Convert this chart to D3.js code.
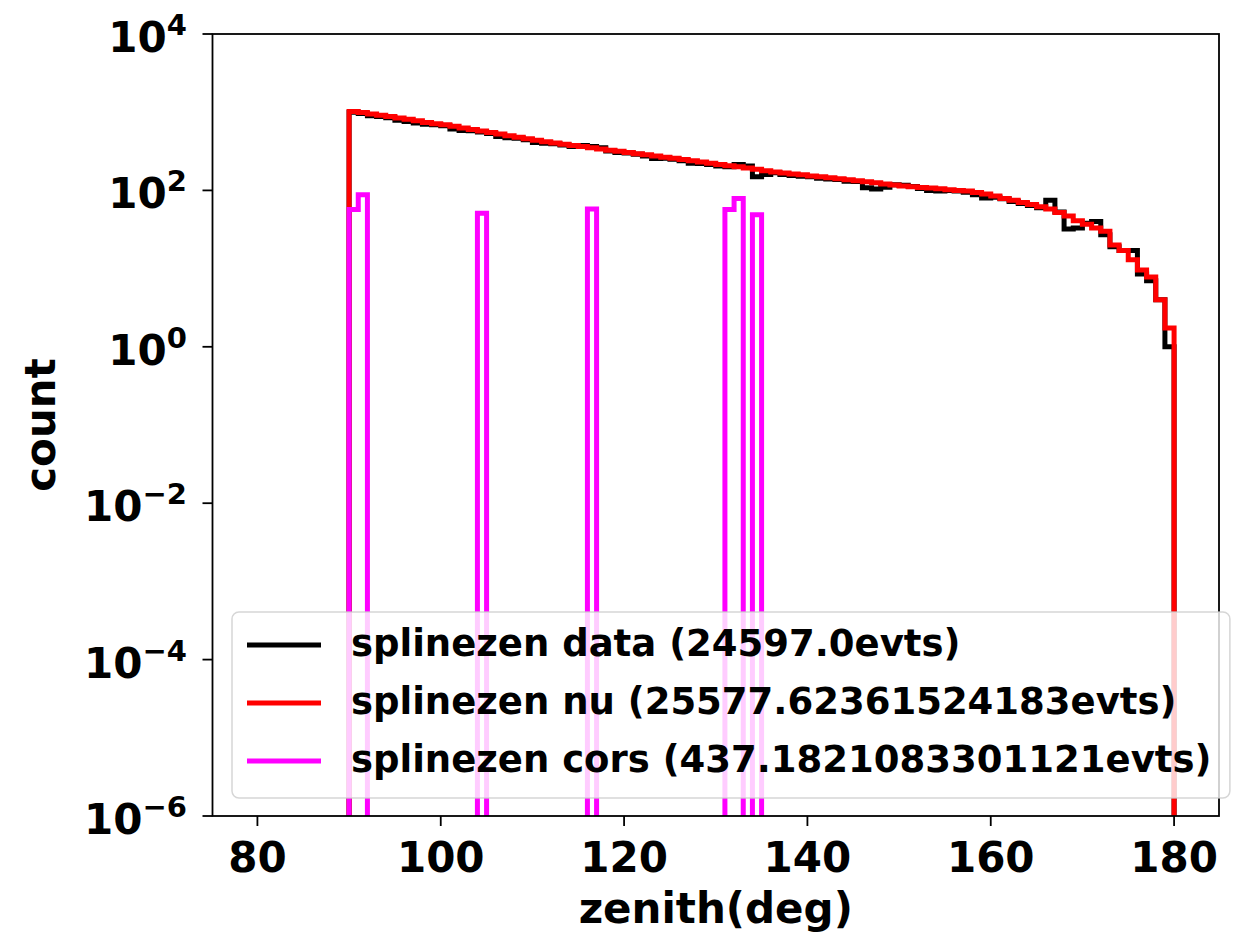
<!DOCTYPE html>
<html>
<head>
<meta charset="utf-8">
<script src="https://cdn.jsdelivr.net/npm/d3@7"></script>
<style>
  body { margin: 0; background: #fff; }
  svg { display: block; }
  text { font-family: "DejaVu Sans", sans-serif; font-weight: bold; fill: #000; }
</style>
</head>
<body>
<svg id="chart" width="1243" height="933"></svg>
<script>
// histogram of zenith angle, 1 deg bins from 80 to 180 (nothing below 90)
const binLo = 80;
const binHi = 180;
const firstFilled = 90;

// counts for bins 90..179
const dataCounts = [
  1000, 960, 900, 880, 850, 790, 760, 730, 700, 690,
  670, 610, 585, 580, 560, 535, 490, 470, 465, 445,
  410, 400, 395, 380, 365, 375, 365, 350, 320, 305,
  300, 290, 275, 255, 258, 250, 240, 222, 220, 215,
  205, 200, 215, 205, 150, 160, 168, 160, 155, 152,
  150, 143, 140, 138, 131, 130, 108, 104, 110, 118,
  116, 112, 106, 100, 98, 100, 98, 95, 88, 80,
  82, 78, 72, 68, 64, 60, 75, 53, 32, 33,
  38, 40, 27, 19, 17, 17, 8.5, 7.0, 4.0, 1.0
];
const nuCounts = [
  1020, 990, 950, 915, 880, 845, 810, 776, 741, 710,
  690, 660, 630, 603, 575, 550, 525, 501, 479, 457,
  437, 420, 403, 389, 376, 363, 351, 339, 327, 316,
  305, 295, 285, 275, 266, 257, 248, 240, 230, 222,
  214, 207, 200, 193, 186, 178, 172, 167, 162, 158,
  153, 149, 145, 141, 137, 133, 129, 125, 121, 117,
  114, 111, 109, 107, 105, 102, 100, 98, 94, 90,
  85, 79, 75, 70, 66, 62, 58, 52, 47, 41,
  37, 33, 30, 20, 17, 13, 9.6, 7.8, 4.0, 1.74
];
// corsika: only a few filled bins
const corsBins = [90, 91, 104, 116, 131, 132, 134];
const corsCounts = [57, 88, 51, 58, 57, 79, 49];

const xTicks = [80, 100, 120, 140, 160, 180];
const yTickExps = [4, 2, 0, -2, -4, -6];

const seriesNames = [
  'splinezen data (24597.0evts)',
  'splinezen nu (25577.62361524183evts)',
  'splinezen cors (437.1821083301121evts)'
];
const seriesColors = ['#000000', '#ff0000', '#ff00ff'];

const W = 1243, H = 933;
const plot = { left: 212.5, right: 1219, top: 34, bottom: 816 };

const svg = d3.select('#chart');

const x = d3.scaleLinear().domain([75.1, 184.9]).range([plot.left, plot.right]);
const y = d3.scaleLog().domain([1e-6, 1e4]).range([plot.bottom, plot.top]);

// spread a series over all bins 80..179
function fullBins(counts) {
  return d3.range(binLo, binHi).map(b => (b < firstFilled ? 0 : counts[b - firstFilled]));
}
const corsFull = d3.range(binLo, binHi).map(b => {
  const i = corsBins.indexOf(b);
  return i < 0 ? 0 : corsCounts[i];
});

function stepPoints(vals) {
  const pts = [[binLo, 0]];
  vals.forEach((v, i) => {
    pts.push([binLo + i, v]);
    pts.push([binLo + i + 1, v]);
  });
  pts.push([binHi, 0]);
  return pts;
}

svg.append('defs').append('clipPath').attr('id', 'clip')
  .append('rect')
  .attr('x', plot.left).attr('y', plot.top)
  .attr('width', plot.right - plot.left).attr('height', plot.bottom - plot.top);

const line = d3.line()
  .x(d => x(d[0]))
  .y(d => (d[1] > 0 ? y(d[1]) : plot.bottom + 60))
  .curve(d3.curveLinear);

const allSeries = [fullBins(dataCounts), fullBins(nuCounts), corsFull];

const g = svg.append('g').attr('clip-path', 'url(#clip)');
allSeries.forEach((vals, i) => {
  g.append('path')
    .attr('d', line(stepPoints(vals)))
    .attr('fill', 'none')
    .attr('stroke', seriesColors[i])
    .attr('stroke-width', 5)
    .attr('stroke-linejoin', 'miter');
});

// frame
svg.append('rect')
  .attr('x', plot.left).attr('y', plot.top)
  .attr('width', plot.right - plot.left).attr('height', plot.bottom - plot.top)
  .attr('fill', 'none').attr('stroke', '#000').attr('stroke-width', 1.8);

// x axis
const xg = svg.append('g');
xTicks.forEach(t => {
  xg.append('line')
    .attr('x1', x(t)).attr('x2', x(t))
    .attr('y1', plot.bottom).attr('y2', plot.bottom + 10)
    .attr('stroke', '#000').attr('stroke-width', 1.8);
  xg.append('text')
    .attr('x', x(t)).attr('y', 872)
    .attr('text-anchor', 'middle')
    .attr('font-size', 42)
    .text(t);
});
svg.append('text')
  .attr('x', (plot.left + plot.right) / 2).attr('y', 923)
  .attr('text-anchor', 'middle')
  .attr('font-size', 42)
  .text('zenith(deg)');

// y axis
const yg = svg.append('g');
yTickExps.forEach(e => {
  const yy = y(Math.pow(10, e));
  yg.append('line')
    .attr('x1', plot.left - 10).attr('x2', plot.left)
    .attr('y1', yy).attr('y2', yy)
    .attr('stroke', '#000').attr('stroke-width', 1.8);
  const t = yg.append('text')
    .attr('x', 187).attr('y', yy + 18)
    .attr('text-anchor', 'end')
    .attr('font-size', 42);
  t.append('tspan').text('10');
  t.append('tspan').attr('font-size', 29).attr('dy', -17)
    .text(e < 0 ? '\u2212' + Math.abs(e) : String(e));
});
svg.append('text')
  .attr('transform', `translate(55,${(plot.top + plot.bottom) / 2}) rotate(-90)`)
  .attr('text-anchor', 'middle')
  .attr('font-size', 42)
  .text('count');

// legend
const F = 37;
const leg = svg.append('g');
const legLeft = 232, legTop = 612;
const handleX1 = 247, handleX2 = 321, textX = 351;
const rowY = [645, 703, 761];
const box = leg.append('rect')
  .attr('x', legLeft).attr('y', legTop)
  .attr('rx', 7).attr('ry', 7)
  .attr('height', 186)
  .attr('fill', '#fff').attr('fill-opacity', 0.8)
  .attr('stroke', '#cccccc').attr('stroke-opacity', 0.8).attr('stroke-width', 1.5);
let maxLen = 0;
seriesNames.forEach((name, i) => {
  leg.append('line')
    .attr('x1', handleX1).attr('x2', handleX2)
    .attr('y1', rowY[i]).attr('y2', rowY[i])
    .attr('stroke', seriesColors[i]).attr('stroke-width', 5);
  const t = leg.append('text')
    .attr('x', textX).attr('y', rowY[i] + 11)
    .attr('font-size', F)
    .text(name);
  maxLen = Math.max(maxLen, t.node().getComputedTextLength());
});
box.attr('width', textX + maxLen + 0.5 * F - legLeft);
</script>
</body>
</html>
